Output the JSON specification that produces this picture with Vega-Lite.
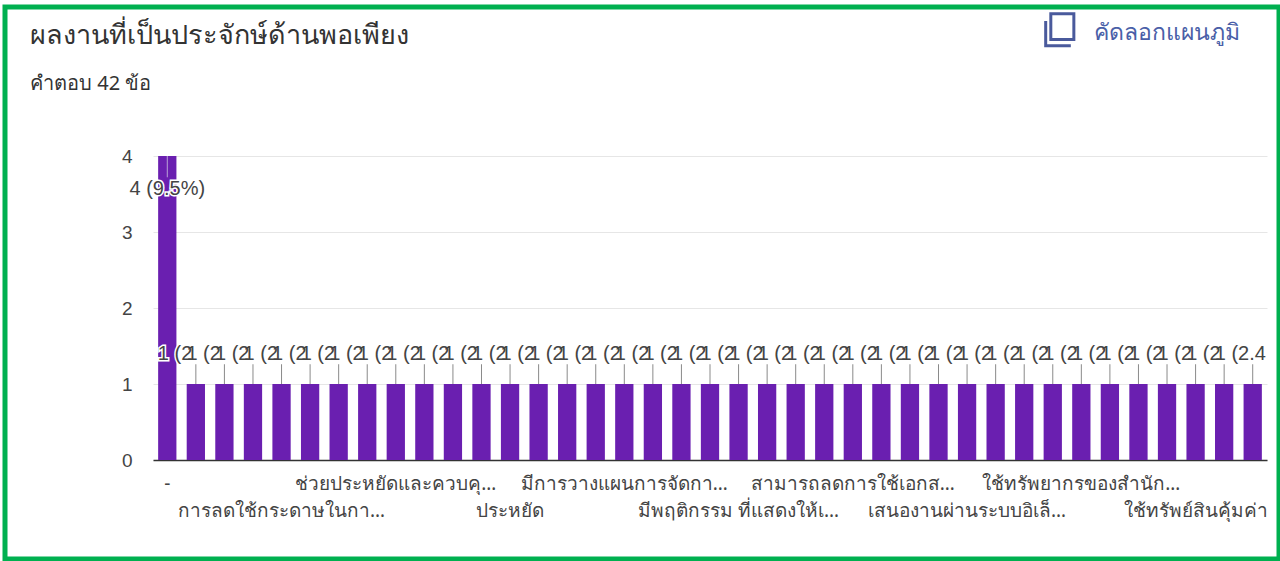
{"$schema":"https://vega.github.io/schema/vega-lite/v6.json","width":1274,"height":552,"autosize":"none","padding":{"left":5,"top":7,"right":1,"bottom":2},"background":"#ffffff","title":{"text":"ผลงานที่เป็นประจักษ์ด้านพอเพียง","subtitle":"คำตอบ 42 ข้อ","anchor":"start","frame":"group","dx":25,"dy":92,"font":"Noto Sans","fontSize":27,"fontWeight":"normal","color":"#333333","subtitleFont":"Noto Sans","subtitleFontSize":20,"subtitleColor":"#333333","subtitlePadding":24},"config":{"view":{"stroke":"#00b050","strokeWidth":5,"fill":"#ffffff"},"font":"Liberation Sans"},"data":{"values":[{"no":1,"answer":"-","count":4,"label":"4 (9.5%)"},{"no":2,"answer":null,"count":1,"label":"1 (2.4%)"},{"no":3,"answer":null,"count":1,"label":"1 (2.4%)"},{"no":4,"answer":null,"count":1,"label":"1 (2.4%)"},{"no":5,"answer":"การลดใช้กระดาษในกา…","count":1,"label":"1 (2.4%)"},{"no":6,"answer":null,"count":1,"label":"1 (2.4%)"},{"no":7,"answer":null,"count":1,"label":"1 (2.4%)"},{"no":8,"answer":null,"count":1,"label":"1 (2.4%)"},{"no":9,"answer":"ช่วยประหยัดและควบคุ…","count":1,"label":"1 (2.4%)"},{"no":10,"answer":null,"count":1,"label":"1 (2.4%)"},{"no":11,"answer":null,"count":1,"label":"1 (2.4%)"},{"no":12,"answer":null,"count":1,"label":"1 (2.4%)"},{"no":13,"answer":"ประหยัด","count":1,"label":"1 (2.4%)"},{"no":14,"answer":null,"count":1,"label":"1 (2.4%)"},{"no":15,"answer":null,"count":1,"label":"1 (2.4%)"},{"no":16,"answer":null,"count":1,"label":"1 (2.4%)"},{"no":17,"answer":"มีการวางแผนการจัดกา…","count":1,"label":"1 (2.4%)"},{"no":18,"answer":null,"count":1,"label":"1 (2.4%)"},{"no":19,"answer":null,"count":1,"label":"1 (2.4%)"},{"no":20,"answer":null,"count":1,"label":"1 (2.4%)"},{"no":21,"answer":"มีพฤติกรรม ที่แสดงให้เ…","count":1,"label":"1 (2.4%)"},{"no":22,"answer":null,"count":1,"label":"1 (2.4%)"},{"no":23,"answer":null,"count":1,"label":"1 (2.4%)"},{"no":24,"answer":null,"count":1,"label":"1 (2.4%)"},{"no":25,"answer":"สามารถลดการใช้เอกส…","count":1,"label":"1 (2.4%)"},{"no":26,"answer":null,"count":1,"label":"1 (2.4%)"},{"no":27,"answer":null,"count":1,"label":"1 (2.4%)"},{"no":28,"answer":null,"count":1,"label":"1 (2.4%)"},{"no":29,"answer":"เสนองานผ่านระบบอิเล็…","count":1,"label":"1 (2.4%)"},{"no":30,"answer":null,"count":1,"label":"1 (2.4%)"},{"no":31,"answer":null,"count":1,"label":"1 (2.4%)"},{"no":32,"answer":null,"count":1,"label":"1 (2.4%)"},{"no":33,"answer":"ใช้ทรัพยากรของสำนัก…","count":1,"label":"1 (2.4%)"},{"no":34,"answer":null,"count":1,"label":"1 (2.4%)"},{"no":35,"answer":null,"count":1,"label":"1 (2.4%)"},{"no":36,"answer":null,"count":1,"label":"1 (2.4%)"},{"no":37,"answer":"ใช้ทรัพย์สินคุ้มค่า","count":1,"label":"1 (2.4%)"},{"no":38,"answer":null,"count":1,"label":"1 (2.4%)"},{"no":39,"answer":null,"count":1,"label":"1 (2.4%)"}]},"encoding":{"x":{"field":"no","type":"ordinal","scale":{"range":[148,1262],"paddingInner":0.36,"paddingOuter":0.18},"axis":{"title":null,"labels":false,"ticks":false,"grid":false,"domainColor":"#333333","domainWidth":1.5,"offset":-99}},"y":{"field":"count","type":"quantitative","scale":{"domain":[0,4],"nice":false,"range":[453,149]},"axis":{"title":null,"values":[0,0.5,1,1.5,2,2.5,3,3.5,4],"format":"d","labelExpr":"datum.value % 1 === 0 ? datum.label : ''","labelFont":"Liberation Sans","labelFontSize":19,"labelColor":"#444444","labelPadding":21,"domain":false,"ticks":false,"offset":-148,"gridColor":{"condition":{"test":"datum.value % 1 === 0","value":"#e6e6e6"},"value":"#f3f3f3"}}}},"layer":[{"mark":{"type":"bar","color":"#6a1fb0"}},{"transform":[{"filter":"datum.count === 1"}],"mark":{"type":"rule","color":"#8a8a8a","strokeWidth":1},"encoding":{"y2":{"datum":1.26}}},{"transform":[{"filter":"datum.count === 4"}],"mark":{"type":"rule","color":"#b9a3d6","strokeWidth":1},"encoding":{"y2":{"datum":3.72}}},{"transform":[{"filter":"datum.count === 4"}],"mark":{"type":"text","align":"center","baseline":"middle","dy":33,"fontSize":20,"color":"#ffffff","stroke":"#ffffff","strokeWidth":3},"encoding":{"text":{"field":"label"}}},{"transform":[{"filter":"datum.count === 4"}],"mark":{"type":"text","align":"center","baseline":"middle","dy":33,"fontSize":20,"color":"#444444"},"encoding":{"text":{"field":"label"}}},{"transform":[{"filter":"datum.count === 1 && datum.no < 39"}],"mark":{"type":"text","align":"left","baseline":"middle","dx":-38,"dy":-30,"fontSize":20,"limit":41,"ellipsis":" ","color":"#ffffff","stroke":"#ffffff","strokeWidth":3},"encoding":{"text":{"field":"label"}}},{"transform":[{"filter":"datum.count === 1 && datum.no < 39"}],"mark":{"type":"text","align":"left","baseline":"middle","dx":-38,"dy":-30,"fontSize":20,"limit":41,"ellipsis":" ","color":"#444444"},"encoding":{"text":{"field":"label"}}},{"transform":[{"filter":"datum.no === 39"}],"mark":{"type":"text","align":"left","baseline":"middle","dx":-38,"dy":-30,"fontSize":20,"limit":58,"ellipsis":" ","color":"#444444"},"encoding":{"text":{"field":"label"}}},{"transform":[{"filter":"indexof([1,9,17,25,33], datum.no) >= 0"}],"mark":{"type":"text","align":"center","baseline":"middle","dy":24,"fontSize":19,"font":"Noto Sans","color":"#444444"},"encoding":{"y":{"datum":0},"text":{"field":"answer"}}},{"transform":[{"filter":"indexof([5,13,21,29,37], datum.no) >= 0"}],"mark":{"type":"text","align":"center","baseline":"middle","dy":51,"fontSize":19,"font":"Noto Sans","color":"#444444"},"encoding":{"y":{"datum":0},"text":{"field":"answer"}}},{"transform":[{"filter":"datum.no === 36"}],"mark":{"type":"text","align":"center","baseline":"middle","fontSize":23,"font":"Noto Sans","color":"#4a5fa8"},"encoding":{"y":{"datum":5.62},"text":{"value":"คัดลอกแผนภูมิ"}}},{"transform":[{"filter":"datum.no === 32"}],"mark":{"type":"point","shape":"M-0.56,-1H0.88V0.6H-0.56ZM-0.88,-0.56V1H0.69","size":1024,"filled":false,"stroke":"#4a5a9c","strokeWidth":3,"opacity":1,"xOffset":7},"encoding":{"y":{"datum":5.66}}}]}
